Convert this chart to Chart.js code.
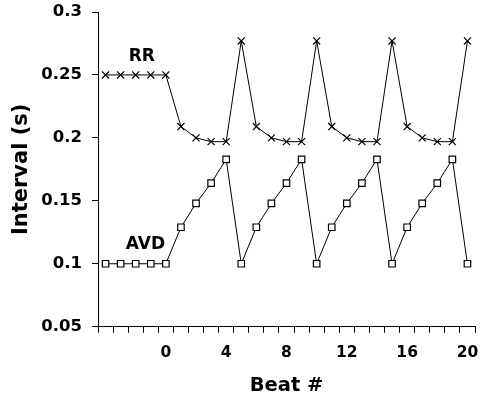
<!DOCTYPE html>
<html>
<head>
<meta charset="utf-8">
<script src="https://cdn.jsdelivr.net/npm/chart.js@4/dist/chart.umd.min.js"></script>
<style>
  html, body { margin: 0; padding: 0; background: #fff; }
  #wrap { width: 482px; height: 396px; }
</style>
</head>
<body>
<div id="wrap"><canvas id="c" width="482" height="396"></canvas></div>
<script>
// beats on the x axis (category axis, labels every 4 beats)
const beats = ['-4','-3','-2','-1','0','1','2','3','4','5','6','7','8','9','10',
               '11','12','13','14','15','16','17','18','19','20'];

// RR interval (s)
const rrValues = [0.25, 0.25, 0.25, 0.25, 0.25,
                  0.209, 0.2, 0.197, 0.197, 0.277,
                  0.209, 0.2, 0.197, 0.197, 0.277,
                  0.209, 0.2, 0.197, 0.197, 0.277,
                  0.209, 0.2, 0.197, 0.197, 0.277];

// AV delay (s)
const avdValues = [0.1, 0.1, 0.1, 0.1, 0.1,
                   0.129, 0.148, 0.164, 0.183, 0.1,
                   0.129, 0.148, 0.164, 0.183, 0.1,
                   0.129, 0.148, 0.164, 0.183, 0.1,
                   0.129, 0.148, 0.164, 0.183, 0.1];

const shownBeats = ['0','4','8','12','16','20'];
const yMin = 0.05, yMax = 0.3, yStep = 0.05;

// series labels written inside the plot
const noteText = ['RR', 'AVD'];
const noteBeat = [-1.6, -1.35];
const noteValue = [0.2645, 0.1155];

const FONT = "'DejaVu Sans', Verdana, sans-serif";

const notesPlugin = {
    id: 'notes',
    afterDatasetsDraw(chart) {
        const ctx = chart.ctx
        const xs = chart.scales.x, ys = chart.scales.y
        ctx.save()
        ctx.fillStyle = '#000'
        ctx.font = 'bold 17px ' + FONT
        ctx.textAlign = 'center'
        ctx.textBaseline = 'middle'
        for (var i = 0; i < noteText.length; i++) {
            var idx = noteBeat[i] - Number(beats[0])
            ctx.fillText(noteText[i], xs.getPixelForValue(idx), ys.getPixelForValue(noteValue[i]))
        }
        ctx.restore()
    }
}

new Chart(document.getElementById('c'), {
    type: 'line',
    data: {
        labels: beats,
        datasets: [{
            label: 'RR',
            data: rrValues,
            borderColor: '#000',
            borderWidth: 1,
            tension: 0,
            pointStyle: 'crossRot',
            pointRadius: 5,
            pointBorderWidth: 1.2,
            pointBorderColor: '#000',
            pointBackgroundColor: '#000',
        }, {
            label: 'AVD',
            data: avdValues,
            borderColor: '#000',
            borderWidth: 1,
            tension: 0,
            pointStyle: 'rect',
            pointRadius: 4.6,
            pointBorderWidth: 1.2,
            pointBorderColor: '#000',
            pointBackgroundColor: '#fff',
        }]
    },
    options: {
        responsive: false,
        animation: false,
        layout: { padding: { top: 12, right: 7, bottom: 0, left: 0 } },
        plugins: { legend: { display: false }, tooltip: { enabled: false } },
        scales: {
            x: {
                type: 'category',
                offset: true,
                afterFit: (s) => { s.height = 69.3; s.paddingLeft = 0; s.paddingRight = 0 },
                grid: { offset: true, drawOnChartArea: false, drawTicks: true, tickLength: 6, color: '#000' },
                border: { display: true, color: '#000', width: 1 },
                ticks: {
                    autoSkip: false,
                    maxRotation: 0,
                    padding: 11,
                    color: '#000',
                    font: { family: FONT, size: 15.5, weight: 'bold' },
                    callback: function (v, i) {
                        var lab = beats[i]
                        return shownBeats.includes(lab) ? lab : ''
                    }
                },
                title: {
                    display: true,
                    text: 'Beat #',
                    color: '#000',
                    font: { family: FONT, size: 19.5, weight: 'bold' },
                    padding: { top: 0, bottom: -2 }
                }
            },
            y: {
                min: yMin,
                max: yMax,
                afterFit: (s) => { s.width = 98; s.paddingTop = 0; s.paddingBottom = 0 },
                grid: { drawOnChartArea: false, drawTicks: true, tickLength: 6, color: '#000' },
                border: { display: true, color: '#000', width: 1 },
                ticks: {
                    stepSize: yStep,
                    padding: 10,
                    color: '#000',
                    font: { family: FONT, size: 16.5, weight: 'bold' },
                    callback: (v) => String(Math.round(v * 100) / 100)
                },
                title: {
                    display: true,
                    text: 'Interval (s)',
                    color: '#000',
                    font: { family: FONT, size: 21, weight: 'bold' },
                    padding: { top: 9, bottom: 0 }
                }
            }
        }
    },
    plugins: [notesPlugin]
})
</script>
</body>
</html>
